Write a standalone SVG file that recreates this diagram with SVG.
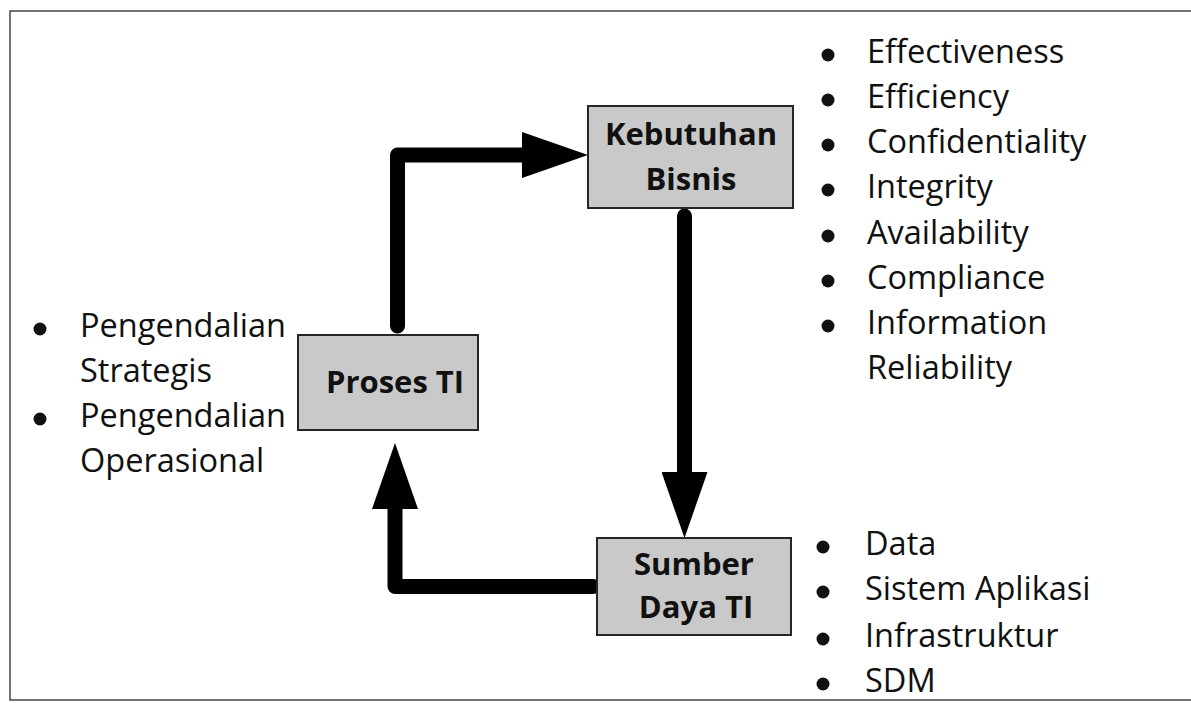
<svg xmlns="http://www.w3.org/2000/svg" width="1191" height="703" viewBox="0 0 1191 703">
<style>
.frame{fill:#ffffff;stroke:#444;stroke-width:1.5}
.box{fill:#c9c9c9;stroke:#262626;stroke-width:2}
.bt{font-family:"Open Sans","Liberation Sans",sans-serif;font-weight:bold;font-size:31px;fill:#111;text-anchor:middle}
.li{font-family:"Open Sans","Liberation Sans",sans-serif;font-size:32.5px;fill:#111}
.bul{fill:#111}
.conn{fill:none;stroke:#000;stroke-width:15;stroke-linecap:round;stroke-linejoin:round}
</style>
<defs>
<marker id="ah" markerUnits="userSpaceOnUse" markerWidth="66" markerHeight="46" viewBox="0 0 66 46" refX="26" refY="23" orient="auto">
<path d="M0,0 L66,23 L0,46 Z" fill="#000"/>
</marker>
</defs>
<rect class="frame" x="10" y="11" width="1200" height="689"/>
<g id="connectors">
<path class="conn" d="M397.5,326 L397.5,155 L548,155" marker-end="url(#ah)"/>
<path class="conn" d="M684.5,216 L684.5,498" marker-end="url(#ah)"/>
<path class="conn" d="M593,586.5 L395,586.5 L395,483" marker-end="url(#ah)"/>
</g>
<g id="kebutuhan">
<rect class="box" x="588" y="106" width="205" height="102"/>
<text class="bt" x="691" y="145">Kebutuhan</text>
<text class="bt" x="691" y="190">Bisnis</text>
</g>
<g id="proses">
<rect class="box" x="298" y="335" width="180" height="95"/>
<text class="bt" x="395" y="393">Proses TI</text>
</g>
<g id="sumber">
<rect class="box" x="597" y="538" width="194" height="97"/>
<text class="bt" x="694" y="575">Sumber</text>
<text class="bt" x="696" y="618">Daya TI</text>
</g>
<g id="list-kriteria">
<circle class="bul" cx="828" cy="55" r="6.5"/><text class="li" x="867" y="63">Effectiveness</text>
<circle class="bul" cx="828" cy="100" r="6.5"/><text class="li" x="867" y="108">Efficiency</text>
<circle class="bul" cx="828" cy="145" r="6.5"/><text class="li" x="867" y="153">Confidentiality</text>
<circle class="bul" cx="828" cy="190" r="6.5"/><text class="li" x="867" y="198">Integrity</text>
<circle class="bul" cx="828" cy="236" r="6.5"/><text class="li" x="867" y="244">Availability</text>
<circle class="bul" cx="828" cy="281" r="6.5"/><text class="li" x="867" y="289">Compliance</text>
<circle class="bul" cx="828" cy="326" r="6.5"/><text class="li" x="867" y="334">Information</text>
<text class="li" x="867" y="379">Reliability</text>
</g>
<g id="list-sumber">
<circle class="bul" cx="823" cy="547" r="6.5"/><text class="li" x="865" y="555">Data</text>
<circle class="bul" cx="823" cy="592" r="6.5"/><text class="li" x="865" y="600">Sistem Aplikasi</text>
<circle class="bul" cx="823" cy="639" r="6.5"/><text class="li" x="865" y="647">Infrastruktur</text>
<circle class="bul" cx="823" cy="684" r="6.5"/><text class="li" x="865" y="692">SDM</text>
</g>
<g id="list-proses">
<circle class="bul" cx="40" cy="329" r="6.5"/><text class="li" x="80" y="337">Pengendalian</text>
<text class="li" x="80" y="382">Strategis</text>
<circle class="bul" cx="40" cy="419" r="6.5"/><text class="li" x="80" y="427">Pengendalian</text>
<text class="li" x="80" y="472">Operasional</text>
</g>
</svg>
